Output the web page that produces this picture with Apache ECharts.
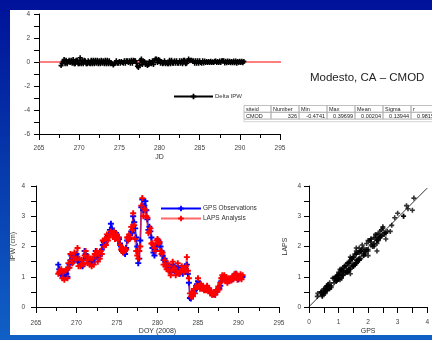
<!DOCTYPE html>
<html>
<head>
<meta charset="utf-8">
<script src="https://cdn.jsdelivr.net/npm/echarts@6/dist/echarts.min.js"></script>
<style>
  html, body { margin: 0; padding: 0; }
  body {
    width: 432px; height: 340px; overflow: hidden; position: relative;
    background: linear-gradient(180deg, #00129a 0%, #0636aa 45%, #1060c6 100%);
  }
  #panel { position: absolute; left: 10px; top: 10px; width: 422px; height: 325px; background: #fff; }
  #chart { position: absolute; left: 0; top: 0; width: 432px; height: 340px; }
</style>
</head>
<body>
<div id="panel"></div>
<div id="chart"></div>
<script>
  // samples every 3 h, first one at DOY 267.75
  const startDoy = 267.75
  const stepDoy = 0.125

  const gpsIpw = [
    1.40, 1.25,
    1.15, 1.05, 1.10, 1.00, 1.05, 1.15, 1.10, 1.00, // 268
    1.30, 1.40, 1.55, 1.70, 1.60, 1.50, 1.65, 1.70, // 269
    1.75, 1.60, 1.50, 1.45, 1.50, 1.40, 1.35, 1.55, // 270
    1.85, 1.75, 1.65, 1.60, 1.50, 1.55, 1.45, 1.50, // 271
    1.45, 1.50, 1.60, 1.85, 1.75, 1.65, 1.60, 1.70, // 272
    1.75, 1.90, 2.05, 2.15, 2.10, 2.20, 2.30, 2.35, // 273
    2.40, 2.55, 2.75, 2.60, 2.45, 2.40, 2.35, 2.45, // 274
    2.35, 2.30, 2.25, 2.10, 2.00, 1.85, 1.90, 1.80, // 275
    1.75, 1.95, 2.20, 2.30, 2.25, 2.40, 2.50, 2.45, // 276
    3.00, 2.80, 2.60, 2.30, 2.00, 1.45, 1.60, 2.20, // 277
    3.30, 3.55, 3.20, 3.35, 3.50, 3.20, 2.90, 2.55, // 278
    2.65, 2.50, 2.30, 1.95, 1.80, 1.70, 1.90, 2.00, // 279
    2.10, 2.20, 2.10, 2.00, 1.85, 1.70, 1.55, 1.60, // 280
    1.50, 1.40, 1.30, 1.35, 1.20, 1.15, 1.30, 1.40, // 281
    1.35, 1.20, 1.15, 1.25, 1.35, 1.20, 1.10, 1.30, // 282
    1.20, 1.10, 1.30, 1.35, 1.25, 1.40, 1.10, 0.80, // 283
    0.30, 0.28, 0.40, 0.45, 0.50, 0.55, 0.60, 0.75, // 284
    0.85, 0.75, 0.70, 0.65, 0.68, 0.62, 0.60, 0.58, // 285
    0.60, 0.65, 0.62, 0.55, 0.50, 0.48, 0.45, 0.42, // 286
    0.42, 0.45, 0.50, 0.55, 0.60, 0.62, 0.70, 0.85, // 287
    0.95, 1.00, 0.98, 0.92, 0.90, 0.85, 0.88, 0.92, // 288
    0.90, 0.95, 0.92, 0.98, 1.00, 1.10, 1.05, 0.95, // 289
    0.92, 1.00, 1.02, 0.98, 1.00                    // 290
  ]

  const lapsIpw = [
    1.10, 1.15,
    1.20, 1.25, 0.95, 1.15, 0.90, 1.20, 1.25, 0.95, // 268
    1.45, 1.30, 1.75, 1.55, 1.45, 1.65, 1.80, 1.55, // 269
    1.60, 1.95, 1.35, 1.60, 1.35, 1.55, 1.45, 1.40, // 270
    1.70, 1.85, 1.55, 1.45, 1.65, 1.40, 1.60, 1.35, // 271
    1.60, 1.40, 1.75, 1.70, 1.85, 1.50, 1.75, 1.60, // 272
    1.85, 1.75, 2.20, 2.00, 2.25, 2.05, 2.40, 2.20, // 273
    2.30, 2.40, 2.50, 2.45, 2.35, 2.50, 2.25, 2.35, // 274
    2.40, 2.20, 2.30, 2.05, 1.90, 1.95, 1.80, 1.90, // 275
    1.85, 1.90, 2.30, 2.20, 2.40, 2.30, 2.65, 2.55, // 276
    3.10, 2.70, 2.25, 1.85, 1.70, 1.60, 1.85, 2.00, // 277
    3.35, 3.60, 3.00, 3.25, 3.20, 3.00, 2.95, 2.45, // 278
    2.50, 2.60, 2.10, 2.10, 2.05, 1.95, 1.85, 2.20, // 279
    2.25, 2.10, 2.15, 1.85, 1.75, 1.80, 1.40, 1.55, // 280
    1.35, 1.25, 1.45, 1.20, 1.35, 1.05, 1.20, 1.50, // 281
    1.25, 1.30, 1.05, 1.15, 1.45, 1.10, 1.20, 1.15, // 282
    1.35, 1.25, 1.15, 1.25, 1.35, 1.65, 1.20, 0.95, // 283
    0.45, 0.35, 0.50, 0.35, 0.60, 0.45, 0.70, 0.65, // 284
    0.95, 0.70, 0.60, 0.75, 0.60, 0.70, 0.55, 0.62, // 285
    0.55, 0.70, 0.58, 0.62, 0.45, 0.50, 0.40, 0.48, // 286
    0.50, 0.40, 0.55, 0.50, 0.68, 0.58, 0.80, 0.95, // 287
    1.05, 0.92, 1.05, 0.85, 0.98, 0.80, 0.95, 0.85, // 288
    0.95, 0.88, 1.00, 0.92, 1.08, 1.00, 1.10, 0.90, // 289
    0.98, 0.95, 1.08, 0.92, 1.05                    // 290
  ]

  // red zero line of the delta panel and fitted line of the scatter panel
  const zeroLine = [[265, 0], [295.4, 0]]
  const fitLine = [[0, 0.01], [4, 3.93]]

  const titleText = 'Modesto, CA \u2013 CMOD'
  const tableHeader = ['siteid', 'Number', 'Min', 'Max', 'Mean', 'Sigma', 'r']
  const tableRow = ['CMOD', '326', '-0.4741', '0.39699', '0.00204', '0.13944', '0.98155']

  const doy = gpsIpw.map((v, i) => startDoy + i * stepDoy)
  const deltaIpw = gpsIpw.map((v, i) => +(lapsIpw[i] - v).toFixed(2))

  const plus = 'path://M3.4,0H6.6V3.4H10V6.6H6.6V10H3.4V6.6H0V3.4H3.4Z'
  const font = 'Liberation Sans'
  const black = '#000'

  function axisCommon(min, max, interval, nameText, extra) {
    return Object.assign({
      type: 'value',
      min: min,
      max: max,
      interval: interval,
      name: nameText,
      nameMoveOverlap: false,
      nameTextStyle: { fontFamily: font, fontSize: 7, color: '#333' },
      axisLine: { show: true, onZero: false, lineStyle: { color: black, width: 1 } },
      axisTick: { show: true, length: 5, lineStyle: { color: black } },
      minorTick: { show: true, splitNumber: 2, length: 5, lineStyle: { color: black } },
      axisLabel: { fontFamily: font, fontSize: 6.5, color: '#444', margin: 9 },
      splitLine: { show: false },
      minorSplitLine: { show: false }
    }, extra || {})
  }

  // table built as graphic cells
  const colEdges = [244, 271, 299, 327, 355, 383, 411, 439]
  const rowTop = [105.5, 112.3]
  const rowH = 6.8
  const tableCells = []
  ;[tableHeader, tableRow].forEach((row, r) => {
    row.forEach((txt, c) => {
      const x0 = colEdges[c]
      const x1 = colEdges[c + 1]
      tableCells.push({
        type: 'rect',
        shape: { x: x0, y: rowTop[r], width: x1 - x0, height: rowH },
        style: { fill: 'none', stroke: '#b0b0b0', lineWidth: 0.8 }
      })
      const right = r === 1 && c > 0
      tableCells.push({
        type: 'text',
        x: right ? x1 - 2 : x0 + 2,
        y: rowTop[r] + rowH / 2 + 0.3,
        style: {
          text: txt, fill: '#222', font: '5.5px "' + font + '"',
          align: right ? 'right' : 'left', verticalAlign: 'middle'
        }
      })
    })
  })
  tableCells.push({
    type: 'rect',
    shape: { x: 244, y: 119.1, width: 195, height: 2.6 },
    style: { fill: 'none', stroke: '#c8c8c8', lineWidth: 0.8 }
  })

  const chart = echarts.init(document.getElementById('chart'), null, { renderer: 'canvas' })
  chart.setOption({
    animation: false,
    backgroundColor: 'transparent',
    textStyle: { fontFamily: font },
    graphic: [
      {
        type: 'text', x: 310, y: 78,
        style: { text: titleText, fill: '#222', font: '11.5px "' + font + '"', verticalAlign: 'middle' }
      }
    ].concat(tableCells),
    legend: [
      {
        left: 168, top: 88.5, itemWidth: 39, itemHeight: 7, itemGap: 2,
        data: ['Delta IPW'],
        textStyle: { fontFamily: font, fontSize: 6, color: '#333', padding: [0, 0, 0, -3] }
      },
      {
        left: 155, top: 200, orient: 'vertical', itemWidth: 40, itemHeight: 7, itemGap: 3,
        data: ['GPS Observations', 'LAPS Analysis'],
        textStyle: { fontFamily: font, fontSize: 6.5, color: '#333', padding: [0, 0, 0, -3] }
      }
    ],
    grid: [
      { left: 39, top: 14, width: 241, height: 120 },
      { left: 36, top: 186, width: 243, height: 121 },
      { left: 309, top: 186, width: 120, height: 121 }
    ],
    xAxis: [
      axisCommon(265, 295, 5, 'JD', {
        gridIndex: 0, nameLocation: 'middle', nameGap: 20,
        axisTick: { show: true, length: 6, lineStyle: { color: black } },
        minorTick: { show: true, splitNumber: 2, length: 4, lineStyle: { color: black } },
        axisLabel: { fontFamily: font, fontSize: 6.5, color: '#444', margin: 11 }
      }),
      axisCommon(265, 295, 5, 'DOY (2008)', {
        gridIndex: 1, nameLocation: 'middle', nameGap: 21,
        axisTick: { show: true, length: 6, lineStyle: { color: black } },
        minorTick: { show: true, splitNumber: 2, length: 4, lineStyle: { color: black } },
        axisLabel: { fontFamily: font, fontSize: 6.5, color: '#444', margin: 13 }
      }),
      axisCommon(0, 4, 1, 'GPS', {
        gridIndex: 2, nameLocation: 'middle', nameGap: 21,
        axisTick: { show: true, length: 6, lineStyle: { color: black } },
        minorTick: { show: true, splitNumber: 2, length: 6, lineStyle: { color: black } },
        axisLabel: { fontFamily: font, fontSize: 6.5, color: '#444', margin: 12 }
      })
    ],
    yAxis: [
      axisCommon(-6, 4, 2, '', { gridIndex: 0 }),
      axisCommon(0, 4, 1, 'IPW (cm)', {
        gridIndex: 1, nameLocation: 'middle', nameGap: 19,
        axisLabel: { fontFamily: font, fontSize: 6.5, color: '#444', margin: 11 }
      }),
      axisCommon(0, 4, 1, 'LAPS', {
        gridIndex: 2, nameLocation: 'middle', nameGap: 20,
        axisLabel: { fontFamily: font, fontSize: 6.5, color: '#444', margin: 8 }
      })
    ],
    series: [
      {
        name: 'zero', type: 'line', xAxisIndex: 0, yAxisIndex: 0,
        data: zeroLine, symbol: 'none', clip: false,
        lineStyle: { color: '#ff0000', width: 1 }, z: 1
      },
      {
        name: 'Delta IPW', type: 'line', xAxisIndex: 0, yAxisIndex: 0,
        data: doy.map((d, i) => [d, deltaIpw[i]]),
        symbol: plus, symbolSize: 5, showSymbol: true,
        itemStyle: { color: black },
        lineStyle: { color: black, width: 1.2 }, z: 3
      },
      {
        name: 'GPS Observations', type: 'line', xAxisIndex: 1, yAxisIndex: 1,
        data: doy.map((d, i) => [d, gpsIpw[i]]),
        symbol: plus, symbolSize: 6, showSymbol: true,
        itemStyle: { color: '#0000ff' },
        lineStyle: { color: '#0000ff', width: 1.4 }
      },
      {
        name: 'LAPS Analysis', type: 'line', xAxisIndex: 1, yAxisIndex: 1,
        data: doy.map((d, i) => [d, lapsIpw[i]]),
        symbol: plus, symbolSize: 6, showSymbol: true,
        itemStyle: { color: '#ff0000' },
        lineStyle: { color: 'rgba(255,40,40,0.7)', width: 1.8 }
      },
      {
        name: 'fit', type: 'line', xAxisIndex: 2, yAxisIndex: 2,
        data: fitLine, symbol: 'none',
        lineStyle: { color: black, width: 0.8 }
      },
      {
        name: 'pairs', type: 'scatter', xAxisIndex: 2, yAxisIndex: 2,
        data: gpsIpw.map((g, i) => [g, lapsIpw[i]]),
        symbol: plus, symbolSize: 5,
        itemStyle: { color: black }
      }
    ]
  })
</script>
</body>
</html>
